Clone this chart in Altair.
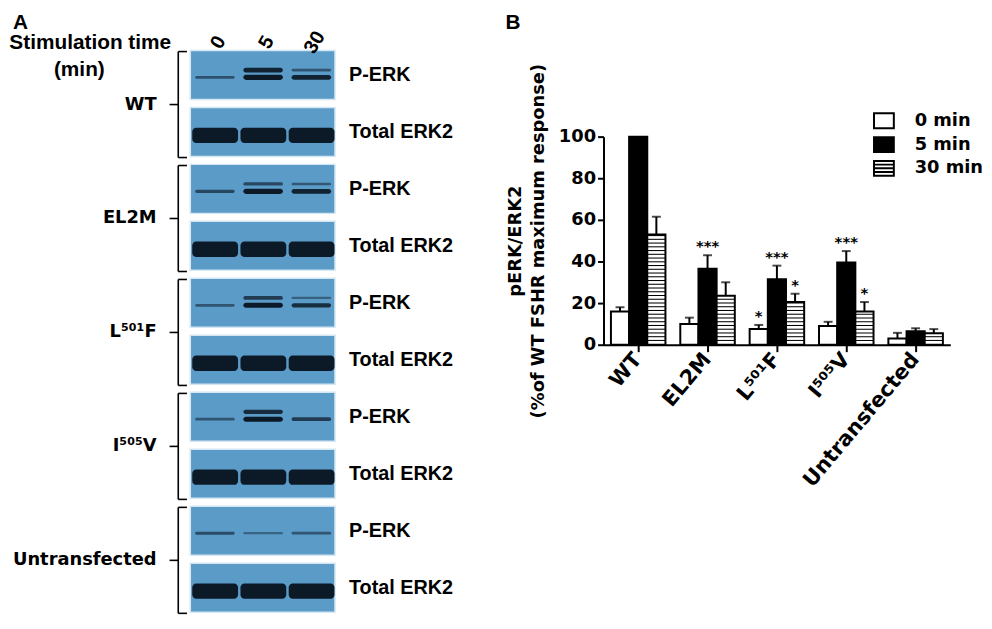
import altair as alt
import pandas as pd

# ---------------- panel B data ----------------
groups = ["WT", "EL2M", "L⁵⁰¹F", "I⁵⁰⁵V", "Untransfected"]
times = ["0 min", "5 min", "30 min"]
mean_0min = [16, 10, 7.5, 9, 3]
mean_5min = [100, 36.5, 31.5, 39.5, 6.5]
mean_30min = [53, 23.5, 20.5, 16, 5.5]
err_0min = [2, 3, 2, 2, 2.7]
err_5min = [0, 6.5, 6.5, 5.5, 1.4]
err_30min = [8.5, 6.5, 4, 4.5, 2]
stars_0min = ["", "", "*", "", ""]
stars_5min = ["", "***", "***", "***", ""]
stars_30min = ["", "", "*", "*", ""]
y_ticks = [0, 20, 40, 60, 80, 100]
y_title = ["pERK/ERK2", "(%of WT FSHR maximum response)"]

# ---------------- panel A data (western blot band intensities) ----------------
blot_groups = ["WT", "EL2M", "L⁵⁰¹F", "I⁵⁰⁵V", "Untransfected"]
lanes = ["0", "5", "30"]
blots = ["P-ERK", "Total ERK2"]
perk_upper = [[0.0, 0.9, 0.3], [0.0, 0.45, 0.25], [0.0, 0.6, 0.15], [0.0, 0.8, 0.0], [0.0, 0.0, 0.0]]
perk_lower = [[0.35, 1.0, 0.9], [0.45, 1.0, 0.9], [0.3, 1.0, 0.75], [0.3, 1.0, 0.6], [0.4, 0.12, 0.3]]
total_erk2 = [[1.0, 1.0, 1.0], [1.0, 1.0, 1.0], [1.0, 1.0, 1.0], [1.0, 1.0, 1.0], [1.0, 1.0, 1.0]]

FONT_A = "Liberation Sans"
FONT_B = "DejaVu Sans"
DY = -3  # small vertical compensation

# ================= PANEL A =================
XA = alt.Scale(domain=[0, 3], range=[179, 325])
YA = alt.Scale(domain=[0, 10], range=[42 + DY, 617 + DY])
STRIP = 0.86


def xa(f):
    return alt.X(f, type="quantitative", scale=XA, axis=None)


def ya(f):
    return alt.Y(f, type="quantitative", scale=YA, axis=None)


strip_rows, band_rows, plabel_rows, glabel_rows, brace_rows = [], [], [], [], []
for gi, g in enumerate(blot_groups):
    for k, b in enumerate(blots):
        r = 2 * gi + k
        strip_rows.append(dict(r=r, r2=r + STRIP, x0=0, x1=3))
        plabel_rows.append(dict(label=b, x=3.29, y=r + 0.43))
        for li in range(3):
            if k == 0:
                for inten, frac in ((perk_upper[gi][li], 0.40), (perk_lower[gi][li], 0.55)):
                    if inten <= 0:
                        continue
                    c = r + frac * STRIP
                    h = 0.03 + 0.06 * inten
                    band_rows.append(dict(x0=li + 0.1, x1=li + 0.92, y0=c - h / 2, y1=c + h / 2, op=min(1, 0.35 + 0.65 * inten)))
            else:
                inten = total_erk2[gi][li]
                c = r + 0.57 * STRIP
                h = 0.27 * inten
                band_rows.append(dict(x0=li + 0.04, x1=li + 0.99, y0=c - h / 2, y1=c + h / 2, op=inten))
    top, bot, mid = 2 * gi + 0.02, 2 * gi + 1 + STRIP + 0.02, 2 * gi + 0.95
    glabel_rows.append(dict(label=g, x=-0.70, y=mid))
    brace_rows += [
        dict(x0=-0.25, x1=-0.25, y0=top, y1=bot),
        dict(x0=-0.25, x1=-0.07, y0=top, y1=top),
        dict(x0=-0.25, x1=-0.07, y0=bot, y1=bot),
        dict(x0=-0.43, x1=-0.25, y0=mid, y1=mid),
    ]

strip_df = pd.DataFrame(strip_rows)
band_df = pd.DataFrame(band_rows)
plabel_df = pd.DataFrame(plabel_rows)
glabel_df = pd.DataFrame(glabel_rows)
brace_df = pd.DataFrame(brace_rows)
lane_df = pd.DataFrame(dict(lane=lanes, x=[i + 0.58 for i in range(3)]))

strips = alt.Chart(strip_df).mark_rect(fill="#5b9bc8", stroke="#d4e6f2", strokeWidth=1.5).encode(
    x=xa("x0"), x2="x1", y=ya("r"), y2="r2")
bands = alt.Chart(band_df).mark_rect(color="#0c1a28", cornerRadius=4).encode(
    x=xa("x0"), x2="x1", y=ya("y0"), y2="y1", opacity=alt.Opacity("op:Q", scale=None, legend=None))
plabels = alt.Chart(plabel_df).mark_text(font=FONT_A, fontSize=20, fontWeight="bold", align="left",
                                        baseline="middle", color="black").encode(
    x=xa("x"), y=ya("y"), text="label:N")
glabels = alt.Chart(glabel_df).mark_text(font=FONT_B, fontSize=18, fontWeight="bold", align="right",
                                        baseline="middle", color="black").encode(
    x=xa("x"), y=ya("y"), text="label:N")
braces = alt.Chart(brace_df).mark_rule(color="black", strokeWidth=1.6).encode(
    x=xa("x0"), x2="x1", y=ya("y0"), y2="y1")
lane_labels = alt.Chart(lane_df).mark_text(font=FONT_A, fontSize=20, fontWeight="bold", angle=300,
                                           align="center", baseline="middle", color="black").encode(
    x=xa("x"), y=alt.value(34 + DY), text="lane:N")
header = alt.Chart(pd.DataFrame(dict(t=["Stimulation time", "(min)"], x=[78, 67], y=[35 + DY, 62 + DY]))).mark_text(
    font=FONT_A, fontSize=21, fontWeight="bold", align="center", baseline="middle", color="black").encode(
    x=alt.X("x:Q", scale=None, axis=None), y=alt.Y("y:Q", scale=None, axis=None), text="t:N")
letter_a = alt.Chart(pd.DataFrame(dict(t=["A"]))).mark_text(
    font=FONT_A, fontSize=21, fontWeight="bold", align="left", baseline="top", color="black").encode(
    x=alt.value(0), y=alt.value(0), text="t:N")

panel_a = alt.layer(strips, bands, braces, plabels, glabels, lane_labels, header, letter_a).properties(
    width=480, height=609)

# ================= PANEL B =================
rows = []
for gi, g in enumerate(groups):
    for t, m, e, s in zip(times, [mean_0min, mean_5min, mean_30min], [err_0min, err_5min, err_30min],
                          [stars_0min, stars_5min, stars_30min]):
        rows.append(dict(group=g, time=t, value=m[gi], upper=m[gi] + e[gi], err=e[gi], star=s[gi]))
bars_df = pd.DataFrame(rows)

STEP = 1.8
stripe_rows = []
for r in rows:
    if r["time"] == "30 min":
        k = 1
        while k * STEP < r["value"] - 0.5:
            stripe_rows.append(dict(group=r["group"], time=r["time"], lv=k * STEP, lv2=k * STEP + 0.5))
            k += 1
stripe_df = pd.DataFrame(stripe_rows)

X_AXIS = alt.Axis(title=None, labelAngle=310, labelAlign="right", labelBaseline="middle",
                  labelFont=FONT_B, labelFontSize=21, labelFontWeight="bold", labelColor="black",
                  labelPadding=4, tickSize=7, tickWidth=2, tickColor="black", domainWidth=2,
                  domainColor="black", grid=False)
Y_AXIS = alt.Axis(title=y_title, values=y_ticks, labelFont=FONT_B, labelFontSize=18, labelFontWeight="bold",
                  labelColor="black", labelPadding=2, tickSize=6, tickWidth=2, tickColor="black",
                  domainWidth=2, domainColor="black", grid=False, titleFont=FONT_B, titleFontSize=18,
                  titleFontWeight="bold", titleColor="black", titlePadding=11, titleLineHeight=23)
XS = alt.Scale(domain=groups, paddingInner=0.214, paddingOuter=0.107)
XOS = alt.Scale(domain=times, paddingInner=0, paddingOuter=0)
YS = alt.Scale(domain=[0, 100], range=[336, 126], nice=False)


def xb():
    return alt.X("group:N", sort=groups, scale=XS, axis=X_AXIS)


def xo():
    return alt.XOffset("time:N", sort=times, scale=XOS)


def yb(f):
    return alt.Y(f, type="quantitative", scale=YS, axis=Y_AXIS)


bars = alt.Chart(bars_df).mark_bar(stroke="black", strokeWidth=2).encode(
    x=xb(), xOffset=xo(), y=yb("value"),
    fill=alt.condition(alt.datum.time == "5 min", alt.value("black"), alt.value("white")))
stripes = alt.Chart(stripe_df).mark_bar(color="black").encode(
    x=xb(), xOffset=xo(), y=yb("lv"), y2="lv2")
err_rule = alt.Chart(bars_df).transform_filter(alt.datum.err > 0).mark_rule(color="black", strokeWidth=2).encode(
    x=xb(), xOffset=xo(), y=yb("value"), y2="upper")
err_cap = alt.Chart(bars_df).transform_filter(alt.datum.err > 0).mark_tick(
    color="black", thickness=2, size=9, orient="horizontal").encode(
    x=xb(), xOffset=xo(), y=yb("upper"))
stars = alt.Chart(bars_df).transform_filter(alt.datum.star != "").mark_text(
    font=FONT_B, fontSize=15, fontWeight="bold", baseline="alphabetic", dy=-4, color="black").encode(
    x=xb(), xOffset=xo(), y=yb("upper"), text="star:N")

p_rect = "M-1,-0.75H1V0.75H-1Z"
p_hatch = "M-1,-0.75H1V0.75H-1Z M-1,-0.375H1 M-1,0H1 M-1,0.375H1"
LEG = alt.Legend(title=None, orient="none", legendX=868, legendY=99, symbolSize=400, symbolStrokeWidth=2,
                 symbolOpacity=1, labelFont=FONT_B, labelFontSize=18,
                 labelFontWeight="bold", labelColor="black", labelOffset=20, rowPadding=0, padding=0)
legend_pts = alt.Chart(bars_df).mark_point(filled=True, stroke="black", strokeWidth=2, opacity=0).encode(
    x=xb(), xOffset=xo(), y=yb("value"),
    fill=alt.Fill("time:N", sort=times, scale=alt.Scale(domain=times, range=["white", "black", "white"]), legend=LEG),
    shape=alt.Shape("time:N", sort=times, scale=alt.Scale(domain=times, range=[p_rect, p_rect, p_hatch]), legend=LEG))
letter_b = alt.Chart(pd.DataFrame(dict(t=["B"]))).mark_text(
    font=FONT_A, fontSize=21, fontWeight="bold", align="left", baseline="top", color="black").encode(
    x=alt.value(-99), y=alt.value(0), text="t:N")

panel_b = alt.layer(bars, stripes, err_rule, err_cap, stars, legend_pts, letter_b).properties(
    width=350, height=336)

chart = alt.hconcat(panel_a, panel_b, spacing=116, bounds="flush").properties(padding=0).configure_view(
    stroke="transparent")
chart.save("out.html", embed_options={"renderer": "svg", "actions": False})
